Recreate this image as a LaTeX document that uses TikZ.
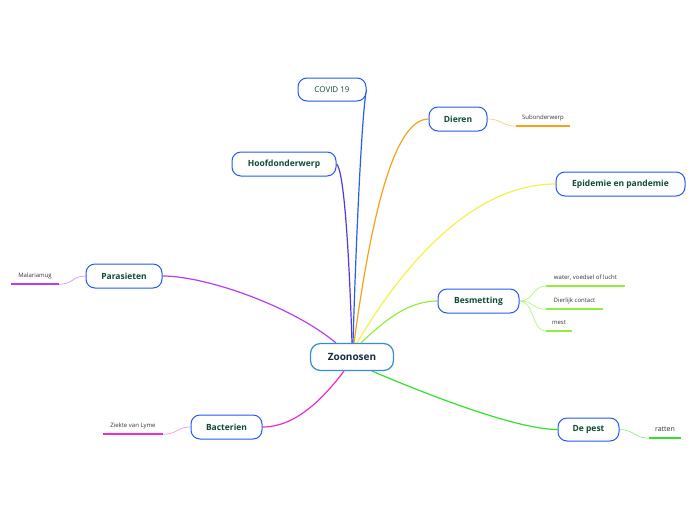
\documentclass[tikz,border=0pt]{standalone}
\usepackage{fontspec}
\setmainfont{Open Sans}
\usetikzlibrary{calc,backgrounds}
\definecolor{nodeblue}{HTML}{2459F0}
\definecolor{rootblue}{HTML}{3A8AD8}
\definecolor{txtgreen}{HTML}{0E4A36}
\definecolor{roottxt}{HTML}{1B2A48}
\definecolor{cblue}{HTML}{2A5CF0}
\definecolor{cindigo}{HTML}{5A34D6}
\definecolor{corange}{HTML}{F7A01A}
\definecolor{cyellow}{HTML}{F2F24A}
\definecolor{clgreen}{HTML}{93EC3E}
\definecolor{cgreen}{HTML}{36E02A}
\definecolor{cpurple}{HTML}{B43EF2}
\definecolor{cmagenta}{HTML}{EE2AD0}
\tikzset{
  topic/.style={draw=nodeblue, line width=1pt, rounded corners=9pt, fill=white,
    text=txtgreen, font=\bfseries\fontsize{8.5}{10}\selectfont, minimum height=24pt, inner sep=0pt},
  root/.style={draw=rootblue, line width=1.2pt, rounded corners=10pt, fill=white,
    text=roottxt, font=\bfseries\fontsize{10}{12}\selectfont, minimum height=27pt, minimum width=83pt, inner sep=0pt},
  sublbl/.style={font=\fontsize{6}{7}\selectfont, text=black!80, minimum height=17pt, inner sep=0pt},
  branch/.style={line width=1.2pt},
  twig/.style={line width=0.7pt},
  uline/.style={line width=1.6pt}
}
\begin{document}
\begin{tikzpicture}[x=1pt,y=-1pt]
\useasboundingbox (0,0) rectangle (696,520);

% nodes
\node[root] (zoo) at (352,357) {Zoonosen};
\node[topic, minimum width=68pt, font=\fontsize{8}{10}\selectfont, minimum height=23pt] (covid) at (332,89.5) {COVID 19};
\node[topic, minimum width=58pt] (dieren) at (458,119) {Dieren};
\node[topic, minimum width=104pt] (hoofd) at (284,164) {Hoofdonderwerp};
\node[topic, minimum width=129pt] (epi) at (620.5,184) {Epidemie en pandemie};
\node[topic, minimum width=76pt] (paras) at (124,276) {Parasieten};
\node[topic, minimum width=81pt] (besm) at (478.5,301) {Besmetting};
\node[topic, minimum width=71pt] (bact) at (226.5,427) {Bacterien};
\node[topic, minimum width=61pt, minimum height=23pt] (pest) at (588.5,429.5) {De pest};

% sub labels
\node[sublbl, minimum width=54pt] (subo) at (543,117.5) {Subonderwerp};
\node[sublbl, minimum width=79pt] (water) at (585.5,277.5) {water, voedsel of lucht};
\node[sublbl, minimum width=57pt] (dier) at (574.5,300.5) {Dierlijk contact};
\node[sublbl, minimum width=26pt] (mest) at (559,322.5) {mest};
\node[sublbl, minimum width=48pt] (malaria) at (35,275.5) {Malariamug};
\node[sublbl, minimum width=60pt] (lyme) at (133,425.5) {Ziekte van Lyme};
\node[sublbl, minimum width=32pt, font=\fontsize{7}{8}\selectfont] (ratten) at (665,429.5) {ratten};

% underlines
\draw[uline, corange] (subo.south west) -- (subo.south east);
\draw[uline, clgreen] (water.south west) -- (water.south east);
\draw[uline, clgreen] (dier.south west) -- (dier.south east);
\draw[uline, clgreen] (mest.south west) -- (mest.south east);
\draw[uline, cpurple] (malaria.south west) -- (malaria.south east);
\draw[uline, cmagenta] (lyme.south west) -- (lyme.south east);
\draw[uline, cgreen] (ratten.south west) -- (ratten.south east);

\begin{scope}[on background layer]
% main branches
\draw[branch, cblue] ($(zoo.north)+(1,0)$) .. controls (356,240) and (362,110) .. (covid.east);
\draw[branch, cindigo] ($(zoo.north)+(0,0)$) .. controls (349,250) and (344,170) .. (hoofd.east);
\draw[branch, corange] ($(zoo.north)+(2,0)$) .. controls (372,210) and (395,119) .. (dieren.west);
\draw[branch, cyellow] ($(zoo.north)+(5,0)$) .. controls (400,270) and (470,184) .. (epi.west);
\draw[branch, clgreen] ($(zoo.north)+(9,0)$) .. controls (390,315) and (412,301) .. (besm.west);
\draw[branch, cpurple] ($(zoo.north)+(-16,0)$) .. controls (290,305) and (205,276) .. (paras.east);
\draw[branch, cmagenta] ($(zoo.south)+(-8,0)$) .. controls (322,400) and (295,427) .. (bact.east);
\draw[branch, cgreen] ($(zoo.south)+(20,0)$) .. controls (440,400) and (520,429.5) .. (pest.west);
% twigs
\draw[twig, corange!55] (dieren.east) .. controls (502,119) and (502,126) .. (subo.south west);
\draw[twig, clgreen!70] (besm.east) .. controls (534,301) and (532,286) .. (water.south west);
\draw[twig, clgreen!70] (besm.east) .. controls (534,301) and (532,309) .. (dier.south west);
\draw[twig, clgreen!70] (besm.east) .. controls (534,301) and (532,331) .. (mest.south west);
\draw[twig, cpurple!55] (paras.west) .. controls (72,276) and (74,284) .. (malaria.south east);
\draw[twig, cmagenta!50] (bact.west) .. controls (177,427) and (178,434) .. (lyme.south east);
\draw[twig, cgreen!55] (pest.east) .. controls (634,429.5) and (634,438) .. (ratten.south west);
\end{scope}
\end{tikzpicture}
\end{document}
